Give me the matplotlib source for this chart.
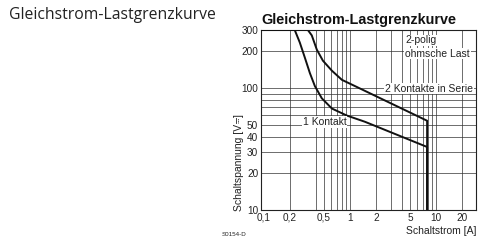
import matplotlib
matplotlib.use("Agg")
import matplotlib.pyplot as plt
from matplotlib.lines import Line2D
from matplotlib.ticker import FixedLocator, NullLocator

# Lastgrenzkurve
kontakt1_a = [0.093, 0.229, 0.262, 0.300, 0.343, 0.392, 0.472, 0.618, 0.92, 1.49, 7.86, 7.86]
kontakt1_v = [300, 300, 237, 178, 133, 104, 82.5, 68, 59.6, 53, 32.9, 10]

serie2_a = [0.093, 0.325, 0.361, 0.413, 0.486, 0.618, 0.807, 1.143, 7.86, 7.86]
serie2_v = [300, 300, 271, 207, 168, 139, 117, 104, 54, 10]

x_ticks = [0.1, 0.2, 0.5, 1, 2, 5, 10, 20]
x_ticklabels = ["0,1", "0,2", "0,5", "1", "2", "5", "10", "20"]
y_ticks = [10, 20, 30, 40, 50, 100, 200, 300]
y_ticklabels = ["10", "20", "30", "40", "50", "100", "200", "300"]
x_grid = [0.2, 0.4, 0.5, 0.6, 0.7, 0.8, 0.9, 1, 2, 3, 4, 5, 6, 7, 8, 9, 10, 20]
y_grid = [20, 30, 40, 50, 60, 70, 80, 90, 100, 200]

plt.rcParams['font.family'] = ['Liberation Sans', 'DejaVu Sans']

W, H = 479, 242
fig = plt.figure(figsize=(W/100, H/100), dpi=100)
ax = fig.add_axes([261/W, 1-210/H, 215/W, 180/H])
ax.set_xscale('log')
ax.set_yscale('log')
ax.set_xlim(0.093, 29)
ax.set_ylim(10, 300)

for g in x_grid:
    ax.axvline(g, color='#333333', lw=0.5, zorder=1)
for g in y_grid:
    ax.axhline(g, color='#333333', lw=0.5, zorder=1)

ax.plot(kontakt1_a, kontakt1_v, color='#111111', lw=1.4, zorder=3)
ax.plot(serie2_a, serie2_v, color='#111111', lw=1.4, zorder=3)

ax.xaxis.set_major_locator(FixedLocator(x_ticks))
ax.xaxis.set_minor_locator(NullLocator())
ax.set_xticklabels(x_ticklabels)
ax.yaxis.set_major_locator(FixedLocator(y_ticks))
ax.yaxis.set_minor_locator(NullLocator())
ax.set_yticklabels(y_ticklabels)
ax.tick_params(length=0, pad=2, labelsize=7.2, colors='#222222')
for s in ax.spines.values():
    s.set_linewidth(0.8)
    s.set_color('#222222')

box = dict(fc='white', ec='none', pad=0.6)
kw = dict(fontsize=7.5, va='center_baseline', bbox=box, zorder=4, color='#222222')
ax.text(4.36, 251, "2-polig", ha='left', **kw)
ax.text(4.36, 196, "ohmsche Last", ha='left', **kw)
ax.text(2.55, 101, "2 Kontakte in Serie", ha='left', **kw)
ax.text(0.51, 54, "1 Kontakt", ha='center', **kw)

fig.text(261/W, 1-20/H, "Gleichstrom-Lastgrenzkurve", fontsize=10.4, fontweight='bold',
         ha='left', va='center', color='#111111')
fig.text(477/W, 1-231/H, "Schaltstrom [A]", fontsize=7.5, ha='right', va='center', color='#222222')
fig.text(222/W, 1-234/H, "S0154-D", fontsize=4.5, ha='left', va='center', color='#222222')

fig.text(9/W, 1-15/H, "Gleichstrom-Lastgrenzkurve", fontsize=11.3, ha='left', va='center',
         color='#222222', family=['Open Sans', 'DejaVu Sans'])

# y label: no installed font has the DC sign (U+2393), so it is drawn as two short strokes
ylab = fig.text(239/W, 1-211/H, "Schaltspannung [V", fontsize=7.5, rotation=90,
                ha='center', va='bottom', color='#222222')
fig.canvas.draw()
bb = ylab.get_window_extent()
y0 = bb.y1 + 1
fig.add_artist(Line2D([(bb.x0 + 2.0)/W]*2, [y0/H, (y0 + 5)/H], color='#222222', lw=0.6))
fig.add_artist(Line2D([(bb.x0 + 4.2)/W]*2, [y0/H, (y0 + 5)/H], color='#222222', lw=0.6,
                      ls=(0, (1.2, 0.8))))
fig.text(bb.x0/W + (bb.x1 - bb.x0)/2/W, (y0 + 6)/H, "]", fontsize=7.5, rotation=90,
         ha='center', va='bottom', color='#222222')

fig.savefig("out.png", dpi=100, facecolor='white')
